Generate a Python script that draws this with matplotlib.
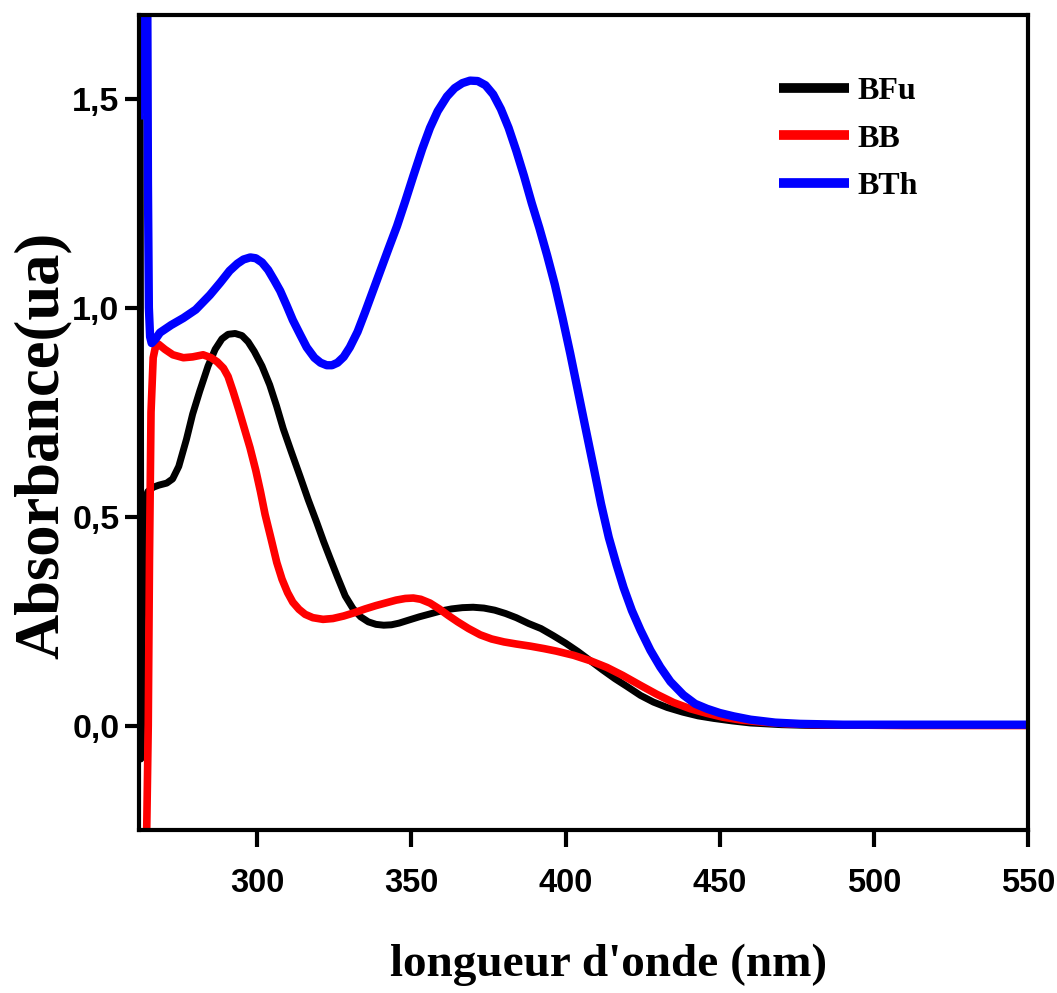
import matplotlib
matplotlib.use("Agg")
import matplotlib.pyplot as plt

# Wavelength (nm) and absorbance for each compound
wl_bfu = [262.0, 262.2, 262.7, 263.5, 264.5, 266.2, 268.0, 270.6, 272.5, 274.5,
          277.0, 279.0, 281.3, 284.0, 286.3, 288.5, 290.5, 292.8, 295.0, 297.0,
          299.0, 301.5, 304.0, 306.2, 308.4, 311.0, 313.9, 316.5, 319.3, 321.5,
          323.6, 326.0, 328.5, 331.0, 333.5, 336.0, 338.5, 341.0, 343.5, 346.0,
          349.0, 352.5, 356.0, 359.5, 363.0, 366.5, 370.0, 373.5, 377.0, 380.5,
          384.0, 388.0, 392.0, 396.0, 400.0, 404.0, 408.0, 412.0, 416.0, 420.0,
          424.3, 428.5, 433.0, 438.0, 443.0, 448.0, 454.0, 460.0, 470.0, 480.0,
          500.0, 550.0]
abs_bfu = [1.46, -0.08, 0.25, 0.54, 0.56, 0.57, 0.575, 0.58, 0.59, 0.62,
           0.685, 0.745, 0.80, 0.86, 0.90, 0.925, 0.936, 0.938, 0.933, 0.918,
           0.895, 0.86, 0.815, 0.765, 0.71, 0.655, 0.595, 0.54, 0.485, 0.44,
           0.40, 0.355, 0.31, 0.28, 0.26, 0.248, 0.242, 0.24, 0.241, 0.245,
           0.252, 0.26, 0.267, 0.274, 0.279, 0.282, 0.283, 0.281, 0.276, 0.268,
           0.258, 0.244, 0.232, 0.215, 0.197, 0.177, 0.155, 0.133, 0.112, 0.093,
           0.072, 0.056, 0.043, 0.032, 0.023, 0.017, 0.011, 0.006, 0.002, 0.0,
           0.0, 0.0]

wl_bb = [262.0, 263.0, 264.0, 264.6, 265.0, 265.5, 266.2, 267.2, 268.0, 270.0,
         272.6, 276.0, 279.0, 282.4, 285.0, 287.0, 289.0, 290.5, 292.1, 294.0,
         296.0, 297.6, 299.5, 301.0, 302.5, 304.5, 306.3, 308.0, 309.8, 311.5,
         313.5, 315.5, 318.0, 321.3, 324.5, 328.0, 331.5, 335.0, 338.5, 342.0,
         345.0, 348.0, 350.6, 353.0, 356.0, 359.0, 362.0, 365.0, 368.5, 372.3,
         376.0, 380.0, 384.0, 388.5, 393.0, 397.0, 402.6, 408.0, 413.4, 418.5,
         424.3, 429.5, 435.0, 440.5, 445.9, 451.0, 457.0, 464.0, 472.0, 480.0,
         495.0, 510.0, 530.0, 550.0]
abs_bb = [-0.4, -0.4, -0.3, 0.0, 0.4, 0.75, 0.88, 0.915, 0.912, 0.9,
          0.887, 0.88, 0.882, 0.887, 0.88, 0.87, 0.855, 0.835, 0.80, 0.755,
          0.705, 0.665, 0.61, 0.56, 0.505, 0.445, 0.39, 0.35, 0.318, 0.295,
          0.278, 0.266, 0.258, 0.254, 0.256, 0.262, 0.27, 0.279, 0.287, 0.294,
          0.3, 0.304, 0.305, 0.302, 0.293, 0.279, 0.263, 0.248, 0.232, 0.217,
          0.207, 0.2, 0.195, 0.19, 0.184, 0.178, 0.168, 0.155, 0.139, 0.12,
          0.096, 0.075, 0.055, 0.04, 0.029, 0.02, 0.013, 0.008, 0.004, 0.002,
          0.001, 0.0, 0.0, 0.0]

wl_bth = [261.7, 262.2, 262.7, 263.2, 263.7, 264.2, 264.5, 264.8, 265.2, 265.7,
          267.0, 268.4, 272.0, 276.0, 280.0, 284.6, 288.0, 291.0, 293.5, 295.5,
          297.7, 299.5, 301.5, 303.5, 305.5, 307.4, 309.5, 311.5, 313.9, 316.0,
          318.5, 320.5, 322.5, 324.2, 326.0, 328.0, 330.0, 332.5, 335.0, 337.5,
          340.0, 342.5, 345.3, 348.0, 350.6, 353.5, 356.0, 358.5, 361.5, 364.0,
          366.5, 369.0, 371.5, 374.0, 376.5, 379.0, 381.5, 384.0, 386.5, 389.0,
          391.5, 394.0, 396.5, 399.0, 401.5, 404.0, 406.5, 409.1, 411.5, 414.0,
          416.5, 418.8, 421.5, 424.3, 427.5, 430.7, 434.0, 438.2, 442.0, 445.9,
          450.0, 454.5, 460.0, 468.0, 476.0, 490.0, 510.0, 530.0, 550.0]
abs_bth = [1.45, 1.95, 1.48, 1.95, 1.5, 1.95, 1.3, 1.0, 0.93, 0.915,
           0.925, 0.94, 0.958, 0.975, 0.995, 1.03, 1.06, 1.088, 1.105, 1.115,
           1.12, 1.118, 1.108, 1.09, 1.065, 1.04, 1.005, 0.97, 0.935, 0.905,
           0.88, 0.868, 0.862, 0.862, 0.868, 0.882, 0.905, 0.942, 0.99, 1.04,
           1.09, 1.14, 1.195, 1.255, 1.315, 1.38, 1.43, 1.47, 1.505, 1.525,
           1.537, 1.543, 1.542, 1.532, 1.51, 1.475, 1.43, 1.375, 1.315, 1.25,
           1.19, 1.125, 1.055, 0.975, 0.89, 0.8, 0.71, 0.617, 0.53, 0.45,
           0.385, 0.33, 0.275, 0.228, 0.18, 0.14, 0.105, 0.073, 0.052, 0.04,
           0.03, 0.022, 0.014, 0.007, 0.004, 0.002, 0.002, 0.002, 0.002]

series_labels = ["BFu", "BB", "BTh"]
x_ticks = [300, 350, 400, 450, 500, 550]
y_ticks = [0.0, 0.5, 1.0, 1.5]
y_tick_labels = ["0,0", "0,5", "1,0", "1,5"]

fig = plt.figure(figsize=(10.57, 9.93), dpi=100)
ax = fig.add_axes([139 / 1057, 1 - 830 / 993, (1028 - 139) / 1057, (830 - 15) / 993])

style = dict(solid_joinstyle="round", solid_capstyle="butt")
ax.plot(wl_bfu, abs_bfu, color="black", lw=5.0, label=series_labels[0], **style)
ax.plot(wl_bb, abs_bb, color="#ff0000", lw=5.5, label=series_labels[1], **style)
ax.plot(wl_bth, abs_bth, color="#0000ff", lw=6.0, label=series_labels[2], **style)

ax.set_xlim(261.6, 550)
ax.set_ylim(-0.25, 1.70)

for sp in ax.spines.values():
    sp.set_linewidth(3.0)

ax.set_xticks(x_ticks)
ax.set_yticks(y_ticks)
ax.set_yticklabels(y_tick_labels)
ax.tick_params(axis="x", direction="out", length=12, width=3, pad=15)
ax.tick_params(axis="y", direction="out", length=10, width=3, pad=4)
sans = ["Liberation Sans", "DejaVu Sans"]
for lab in ax.get_xticklabels():
    lab.set_fontfamily(sans)
    lab.set_fontweight("bold")
    lab.set_fontsize(23.5)
for lab in ax.get_yticklabels():
    lab.set_fontfamily(sans)
    lab.set_fontweight("bold")
    lab.set_fontsize(24.5)

serif = ["Liberation Serif", "DejaVu Serif"]
fig.text(609 / 1057, 1 - 965 / 993, "longueur d'onde (nm)", ha="center", va="center",
         fontsize=34, fontweight="bold", family=serif)
fig.text(43 / 1057, 1 - 445 / 993, "Absorbance(ua)", ha="center", va="center",
         rotation=90, fontsize=45, fontweight="bold", family=serif)

leg = ax.legend(loc="upper left", bbox_to_anchor=((779 - 139) / 889, 0.924),
                frameon=False, borderpad=0, borderaxespad=0,
                handlelength=2.2, handletextpad=0.25, labelspacing=0.56,
                prop={"family": serif, "weight": "bold", "size": 23})
for h in leg.get_lines():
    h.set_linewidth(7)

fig.savefig("out.png", dpi=100)
